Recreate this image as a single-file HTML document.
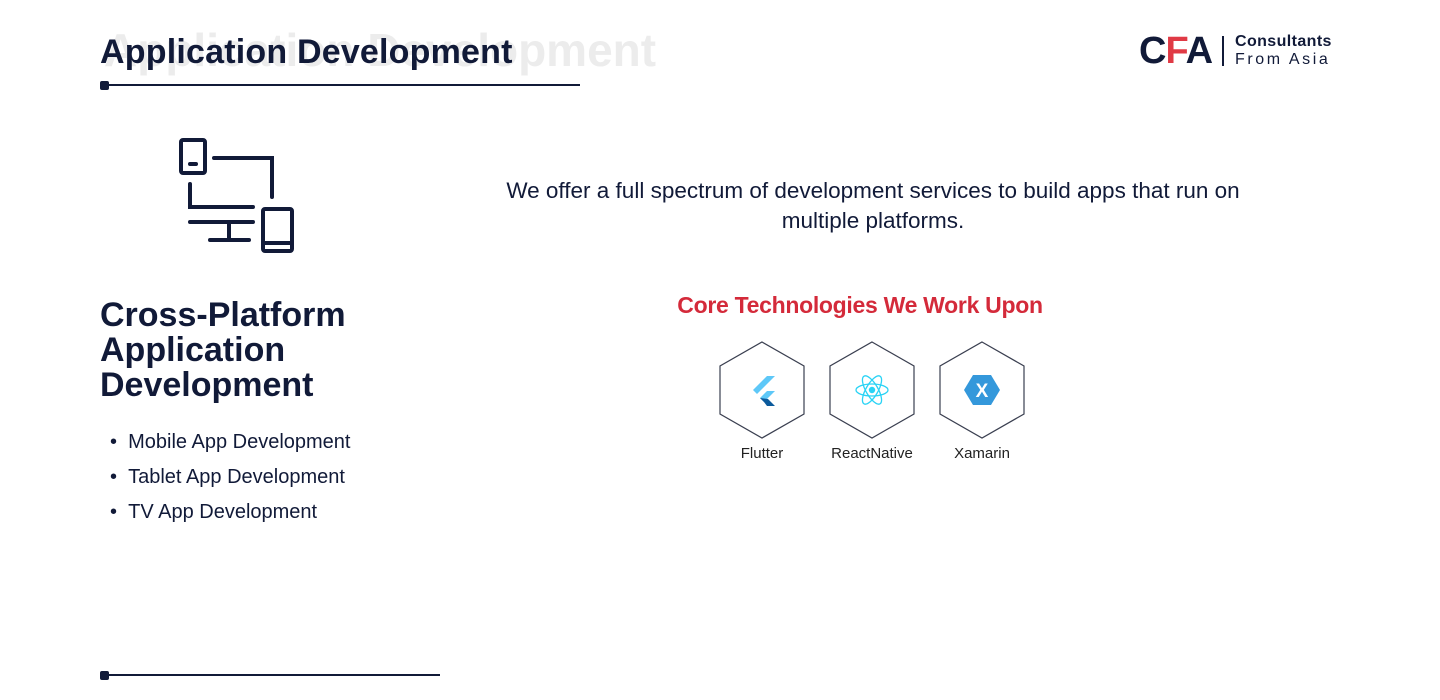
<!DOCTYPE html>
<html><head><meta charset="utf-8"><style>
body{margin:0;width:1440px;height:700px;background:#fff;position:relative;overflow:hidden;font-family:"Liberation Sans",sans-serif;color:#111a38}
.abs{position:absolute;white-space:nowrap}
</style></head><body>
<div class="abs" style="left:104px;top:23px;font-size:46px;font-weight:bold;color:#ececec">Application Development</div>
<div class="abs" style="left:100px;top:33px;font-size:34px;font-weight:bold;letter-spacing:0.2px">Application Development</div>
<div class="abs" style="left:100px;top:84px;width:480px;height:2px;background:#111a38"></div>
<div class="abs" style="left:100px;top:81px;width:9px;height:9px;border-radius:2px;background:#111a38"></div>
<div class="abs" style="left:100px;top:674px;width:340px;height:2px;background:#111a38"></div>
<div class="abs" style="left:100px;top:671px;width:9px;height:9px;border-radius:2px;background:#111a38"></div>

<div class="abs" style="left:1139px;top:29px;font-size:38px;font-weight:bold;letter-spacing:-1px;line-height:44px">C<span style="color:#e03a45">F</span>A</div>
<div class="abs" style="left:1222px;top:36px;width:2px;height:30px;background:#111a38"></div>
<div class="abs" style="left:1235px;top:33px;font-size:16px;font-weight:bold;line-height:17px;letter-spacing:0.4px">Consultants</div>
<div class="abs" style="left:1235px;top:51px;font-size:16px;letter-spacing:2.6px;line-height:17px">From Asia</div>

<svg class="abs" style="left:0;top:0" width="400" height="300">
<g fill="none" stroke="#111a38" stroke-width="4" stroke-linecap="round">
<rect x="181" y="140" width="24" height="33" rx="2"/>
<line x1="190" y1="164" x2="196" y2="164"/>
<polyline points="214,158 272,158 272,197"/>
<polyline points="190,184 190,207 253,207"/>
<line x1="190" y1="222" x2="253" y2="222"/>
<line x1="229" y1="222" x2="229" y2="240"/>
<line x1="210" y1="240" x2="249" y2="240"/>
<rect x="263" y="209" width="29" height="42" rx="2"/>
<line x1="263" y1="243" x2="292" y2="243"/>
</g></svg>

<div class="abs" style="left:100px;top:298px;font-size:34px;font-weight:bold;line-height:35px;letter-spacing:0px">Cross-Platform<br>Application<br>Development</div>
<div class="abs" style="left:110px;top:425px;font-size:20px;line-height:35px">
<div>•&nbsp;&nbsp;Mobile App Development</div>
<div>•&nbsp;&nbsp;Tablet App Development</div>
<div>•&nbsp;&nbsp;TV App Development</div></div>

<div class="abs" style="left:488px;width:770px;top:176px;text-align:center;font-size:22.5px;line-height:30px;white-space:normal">We offer a full spectrum of development services to build apps that run on multiple platforms.</div>
<div class="abs" style="left:440px;width:840px;top:292px;text-align:center;font-size:23px;font-weight:bold;color:#d42a3a;letter-spacing:-0.3px">Core Technologies We Work Upon</div>

<svg class="abs" style="left:700px;top:330px" width="360" height="140">
<g fill="none" stroke="#3a3f50" stroke-width="1.2">
<polygon points="62,12 104,36 104,84 62,108 20,84 20,36"/>
<polygon points="172,12 214,36 214,84 172,108 130,84 130,36"/>
<polygon points="282,12 324,36 324,84 282,108 240,84 240,36"/>
</g>
<polygon points="67,46 75,46 57,64 53,60" fill="#5ec8f8"/>
<polygon points="67,61 75,61 64,72 60,68" fill="#5ec8f8"/>
<polygon points="60,68 64,72 67,76 75,76 68,69" fill="#0b5a9c"/>
<g fill="none" stroke="#29d3f5" stroke-width="1.3">
<ellipse cx="172" cy="60" rx="16" ry="6"/>
<ellipse cx="172" cy="60" rx="16" ry="6" transform="rotate(60 172 60)"/>
<ellipse cx="172" cy="60" rx="16" ry="6" transform="rotate(-60 172 60)"/>
</g>
<circle cx="172" cy="60" r="3.2" fill="#29d3f5"/>
<polygon points="273,45 291,45 300,60 291,75 273,75 264,60" fill="#3498db"/>
<text x="282" y="67" text-anchor="middle" fill="#fff" font-size="19" font-family="Liberation Sans" font-weight="bold">X</text>
<g font-family="Liberation Sans" font-size="15" fill="#222" text-anchor="middle">
<text x="62" y="128">Flutter</text><text x="172" y="128">ReactNative</text><text x="282" y="128">Xamarin</text></g>
</svg>
</body></html>
